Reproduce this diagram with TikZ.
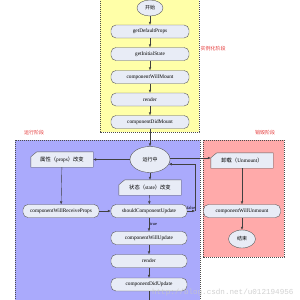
\documentclass[tikz,border=0pt]{standalone}
\usepackage{fontspec}
\setmainfont{Liberation Serif}
\newfontfamily\cjk{Noto Sans CJK SC}
\newfontfamily\markfont{Liberation Mono}
\usetikzlibrary{shapes.geometric, arrows.meta, backgrounds}

\definecolor{boxfill}{RGB}{232,236,246}
\definecolor{yellowzone}{RGB}{255,255,168}
\definecolor{bluezone}{RGB}{170,170,252}
\definecolor{redzone}{RGB}{255,170,170}
\definecolor{stagered}{RGB}{230,60,60}

\tikzset{
  stage/.style={draw=black!70, dash pattern=on 1.2pt off 0.8pt, line width=0.45pt},
  proc/.style={draw=black!65, fill=boxfill, rounded corners=5pt, minimum width=78pt,
    minimum height=13pt, inner sep=0pt, line width=0.4pt, font=\fontsize{5.3}{6}\selectfont},
  term/.style={ellipse, draw=black!65, fill=boxfill, inner sep=0pt, line width=0.4pt,
    font=\cjk\fontsize{5}{6}\selectfont},
  card/.style={minimum width=62pt, minimum height=15pt, inner sep=0pt,
    font=\fontsize{5.3}{6}\selectfont},
  cardline/.style={draw=black!65, fill=boxfill, line width=0.4pt},
  link/.style={-{Latex[length=3pt,width=2.6pt]}, draw=black!75, line width=0.4pt},
  plain/.style={draw=black!75, line width=0.4pt},
  stagelabel/.style={text=stagered, font=\cjk\fontsize{5}{6}\selectfont},
  cond/.style={font=\fontsize{4.5}{5}\selectfont, inner sep=1pt}
}

\begin{document}
\begin{tikzpicture}[x=1pt, y=-1pt]
    \useasboundingbox (0,0) rectangle (300,300);

    % Stage regions
    \begin{pgfonlayer}{background}
        \fill[white] (0,0) rectangle (300,300);
        \filldraw[stage, fill=yellowzone] (100,-5) rectangle (199,132);
        \filldraw[stage, fill=bluezone] (15,140) rectangle (200,310);
        \filldraw[stage, fill=redzone] (203,140) rectangle (284,257);
    \end{pgfonlayer}

    % Stage labels
    \node[stagelabel] (instlabel) at (213,49) {实例化阶段};
    \node[stagelabel] (runlabel) at (34,133) {运行阶段};
    \node[stagelabel] (destlabel) at (265,133) {销毁阶段};

    % Instantiation
    \node[term, minimum width=26pt, minimum height=16pt] (start) at (150,8) {开始};
    \node[proc] (defprops) at (150,31.5) {getDefaultProps};
    \node[proc] (initstate) at (150,54) {getInitialState};
    \node[proc] (willmount) at (150,77) {componentWillMount};
    \node[proc] (render1) at (150,99.5) {render};
    \node[proc] (didmount) at (150,122) {componentDidMount};

    % Running
    \node[term, minimum width=40pt, minimum height=26pt] (running) at (150,159.5) {运行中};
    \node[card] (props) at (62,159.5) {{\cjk 属性（}props{\cjk ）改变}};
    \node[card] (state) at (150,187.5) {{\cjk 状态（}state{\cjk ）改变}};
    \node[proc, minimum width=76pt] (receive) at (61,211) {componentWillReceiveProps};
    \node[proc, minimum width=76pt] (should) at (149,211) {shouldComponentUpdate};
    \node[proc, minimum width=76pt] (willupdate) at (149,238) {componentWillUpdate};
    \node[proc, minimum width=76pt] (render2) at (149,261) {render};
    \node[proc, minimum width=76pt] (didupdate) at (149,284.5) {componentDidUpdate};

    % Destruction
    \node[card] (unmount) at (242,160.5) {{\cjk 卸载（}Unmount{\cjk ）}};
    \node[proc, minimum width=77pt] (willunmount) at (242,211) {componentWillUnmount};
    \node[term, minimum width=27pt, minimum height=18pt] (finish) at (242,239) {结束};

    % Card outlines with cut corner
    \begin{pgfonlayer}{background}
        \foreach \n in {props, state, unmount}
            \filldraw[cardline] ([yshift=-5pt]\n.north west) -- ([xshift=6pt]\n.north west)
                -- (\n.north east) -- (\n.south east) -- (\n.south west) -- cycle;
    \end{pgfonlayer}

    % Instantiation flow
    \draw[link] (start) -- (defprops);
    \draw[link] (defprops) -- (initstate);
    \draw[link] (initstate) -- (willmount);
    \draw[link] (willmount) -- (render1);
    \draw[link] (render1) -- (didmount);
    \draw[link] (didmount) -- (running);

    % Running flow
    \draw[link] (running.west) -- (running.west -| props.east);
    \draw[link] (running) -- (state);
    \draw[link] (props) -- (receive);
    \draw[link] (state) -- (should);
    \draw[link] (receive) -- (should);
    \draw[link] (should) -- node[cond, right, pos=0.45] {true} (willupdate);
    \draw[link] (willupdate) -- (render2);
    \draw[link] (render2) -- (didupdate);
    \coordinate (loopdown) at (149,305);
    \draw[plain] (didupdate) -- (loopdown);
    \coordinate (falsebend) at (195,211);
    \draw[link] (should.east) -- node[cond, above] {false} (falsebend);
    \draw[link] (falsebend) |- (running.-14);

    % Destruction flow
    \draw[link] ([yshift=1.5pt]running.east) -- ([yshift=1.5pt]running.east -| unmount.west);
    \draw[link] (unmount) -- (willunmount);
    \draw[link] (willunmount) -- (finish);

    % Watermark
    \node[text=gray!45, opacity=0.8, font=\markfont\fontsize{7.6}{8}\selectfont, anchor=east]
        (mark) at (297,293) {http://blog.csdn.net/u012194956};
\end{tikzpicture}
\end{document}
